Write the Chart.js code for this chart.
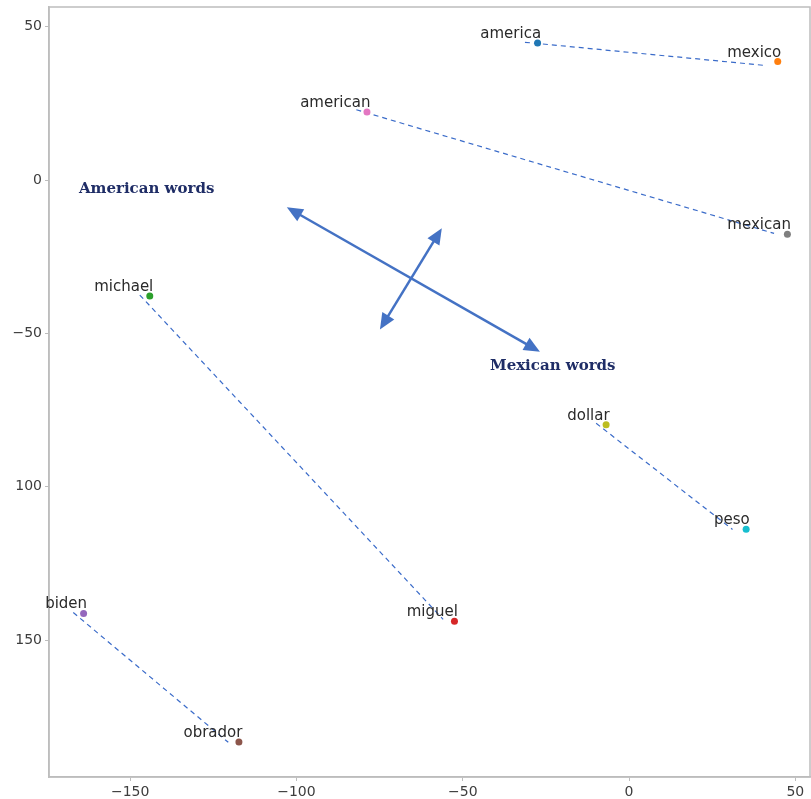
<!DOCTYPE html>
<html>
<head>
<meta charset="utf-8">
<script src="https://cdn.jsdelivr.net/npm/chart.js@4/dist/chart.umd.min.js"></script>
<style>
  html, body { margin: 0; padding: 0; background: #fff; }
  #wrap { width: 811px; height: 799px; }
</style>
</head>
<body>
<div id="wrap"><canvas id="chart" width="811" height="799"></canvas></div>
<script>
// words and their 2-d positions
const words = ['america', 'mexico', 'michael', 'miguel', 'biden', 'obrador', 'american', 'mexican', 'dollar', 'peso'];
const wordX = [-27.5, 44.7, -144.1, -52.5, -164.0, -117.3, -78.8, 47.6, -6.9, 35.2];
const wordY = [44.7, 38.6, -37.8, -143.8, -141.3, -183.2, 22.2, -17.7, -79.8, -113.8];
const wordColors = ['#1f77b4', '#ff7f0e', '#2ca02c', '#d62728', '#9467bd', '#8c564b', '#e377c2', '#7f7f7f', '#bcbd22', '#17becf'];

// dashed pair lines: [x1, y1, x2, y2]
const pairLines = [
  [-31.3, 44.9, 40.4, 37.4],
  [-82.0, 22.9, 43.6, -17.4],
  [-147.1, -37.5, -55.9, -143.2],
  [-9.9, -79.3, 31.1, -113.9],
  [-167.1, -141.0, -120.5, -183.3],
];

// double arrows: [x1, y1, x2, y2]
const arrows = [
  [-102.9, -8.9, -26.8, -56.0],
  [-56.3, -15.7, -74.9, -48.7],
];

const notes = ['American words', 'Mexican words'];
const noteX = [-165.4, -41.8];
const noteY = [-4.3, -62.0];

const xTickValues = [-150, -100, -50, 0, 50];
const xTickLabels = ['−150', '−100', '−50', '0', '50'];
const yTickValues = [50, 0, -50, -100, -150];
const yTickLabels = ['50', '0', '−50', '100', '150'];

const lineBlue = '#3a6bc9';
const arrowBlue = '#4472c4';
const frameGray = '#bdbdbd';

const datasets = pairLines.map((l) => ({
  type: 'line',
  data: [{ x: l[0], y: l[1] }, { x: l[2], y: l[3] }],
  borderColor: lineBlue,
  borderWidth: 1.2,
  borderDash: [5, 4],
  pointRadius: 0,
  fill: false,
  order: 2,
}));

datasets.push({
  type: 'scatter',
  data: words.map((w, i) => ({ x: wordX[i], y: wordY[i] })),
  pointBackgroundColor: wordColors,
  pointBorderWidth: 0,
  pointRadius: 3.5,
  order: 1,
});

function drawArrowHead(ctx, fx, fy, tx, ty) {
  const ang = Math.atan2(ty - fy, tx - fx);
  const len = 16, half = 7;
  ctx.beginPath();
  ctx.moveTo(tx, ty);
  ctx.lineTo(tx - len * Math.cos(ang) + half * Math.sin(ang), ty - len * Math.sin(ang) - half * Math.cos(ang));
  ctx.lineTo(tx - len * Math.cos(ang) - half * Math.sin(ang), ty - len * Math.sin(ang) + half * Math.cos(ang));
  ctx.closePath();
  ctx.fill();
}

const decor = {
  id: 'decor',
  beforeDatasetsDraw(chart) {
    const { ctx, chartArea: a } = chart;
    ctx.save();
    ctx.strokeStyle = frameGray;
    ctx.lineWidth = 1.5;
    ctx.strokeRect(a.left, a.top, a.right - a.left, a.bottom - a.top);
    ctx.restore();
  },
  afterDatasetsDraw(chart) {
    const { ctx } = chart;
    const xs = chart.scales.x, ys = chart.scales.y;
    ctx.save();
    // word labels
    ctx.font = '15px "DejaVu Sans"';
    ctx.fillStyle = '#2a2a2a';
    ctx.textAlign = 'right';
    ctx.textBaseline = 'alphabetic';
    words.forEach((w, i) => {
      ctx.fillText(w, xs.getPixelForValue(wordX[i]) + 3.5, ys.getPixelForValue(wordY[i]) - 5);
    });
    // arrows
    ctx.strokeStyle = arrowBlue;
    ctx.fillStyle = arrowBlue;
    ctx.lineWidth = 2.5;
    arrows.forEach((r) => {
      const x1 = xs.getPixelForValue(r[0]), y1 = ys.getPixelForValue(r[1]);
      const x2 = xs.getPixelForValue(r[2]), y2 = ys.getPixelForValue(r[3]);
      const ang = Math.atan2(y2 - y1, x2 - x1);
      ctx.beginPath();
      ctx.moveTo(x1 + 12 * Math.cos(ang), y1 + 12 * Math.sin(ang));
      ctx.lineTo(x2 - 12 * Math.cos(ang), y2 - 12 * Math.sin(ang));
      ctx.stroke();
      drawArrowHead(ctx, x2, y2, x1, y1);
      drawArrowHead(ctx, x1, y1, x2, y2);
    });
    // notes
    ctx.font = 'bold 15px "DejaVu Serif"';
    ctx.fillStyle = '#1f2d66';
    ctx.textAlign = 'left';
    notes.forEach((t, i) => {
      ctx.fillText(t, xs.getPixelForValue(noteX[i]), ys.getPixelForValue(noteY[i]));
    });
    ctx.restore();
  },
};

function noOverflow(s) {
  s.paddingLeft = 0;
  s.paddingRight = 0;
  s.paddingTop = 0;
  s.paddingBottom = 0;
}

new Chart(document.getElementById('chart'), {
  type: 'scatter',
  data: { datasets },
  options: {
    responsive: false,
    animation: false,
    layout: { autoPadding: false, padding: { top: 7, right: 1, left: 0, bottom: 0 } },
    plugins: { legend: { display: false }, tooltip: { enabled: false } },
    scales: {
      x: {
        type: 'linear',
        min: -174.4,
        max: 54.4,
        afterBuildTicks: (s) => { s.ticks = xTickValues.map((v) => ({ value: v })); },
        afterFit: (s) => { s.height = 22; noOverflow(s); },
        grid: { drawOnChartArea: false, drawTicks: true, tickLength: 4, color: frameGray },
        border: { display: true, color: frameGray, width: 1.5 },
        ticks: {
          padding: 3,
          color: '#3d3d3d',
          font: { family: 'DejaVu Sans', size: 14 },
          callback: (v) => xTickLabels[xTickValues.indexOf(v)],
        },
      },
      y: {
        type: 'linear',
        min: -194.6,
        max: 56.4,
        afterBuildTicks: (s) => { s.ticks = yTickValues.map((v) => ({ value: v })); },
        afterFit: (s) => { s.width = 49; noOverflow(s); },
        grid: { drawOnChartArea: false, drawTicks: true, tickLength: 4, color: frameGray },
        border: { display: true, color: frameGray, width: 1.5 },
        ticks: {
          padding: 3,
          color: '#3d3d3d',
          font: { family: 'DejaVu Sans', size: 14 },
          callback: (v) => yTickLabels[yTickValues.indexOf(v)],
        },
      },
    },
  },
  plugins: [decor],
});
</script>
</body>
</html>
